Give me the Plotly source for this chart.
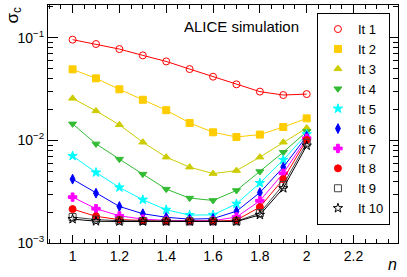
import plotly.graph_objects as go

n_values = [1.0, 1.1, 1.2, 1.3, 1.4, 1.5, 1.6, 1.7, 1.8, 1.9, 2.0]

it1 = [0.096, 0.087, 0.0777, 0.0674, 0.0589, 0.0496, 0.0418, 0.0352, 0.0299, 0.0277, 0.0283]
it2 = [0.0493, 0.0403, 0.0315, 0.0249, 0.0197, 0.0148, 0.0120, 0.0108, 0.0114, 0.0135, 0.0164]
it3 = [0.0257, 0.0194, 0.0142, 0.0096, 0.00687, 0.00549, 0.00475, 0.00508, 0.00687, 0.0096, 0.0132]
it4 = [0.0145, 0.00925, 0.00657, 0.00469, 0.00335, 0.00274, 0.00260, 0.00325, 0.00497, 0.00767, 0.0122]
it5 = [0.00706, 0.00487, 0.00348, 0.00264, 0.00211, 0.00187, 0.00188, 0.00241, 0.00384, 0.00646, 0.0115]
it6 = [0.00419, 0.00306, 0.00227, 0.00193, 0.00178, 0.00171, 0.00173, 0.00204, 0.00310, 0.00548, 0.0110]
it7 = [0.00280, 0.00216, 0.00184, 0.00171, 0.00166, 0.00165, 0.00165, 0.00179, 0.00258, 0.00478, 0.0105]
it8 = [0.00214, 0.00182, 0.00169, 0.00165, 0.00163, 0.00163, 0.00163, 0.00167, 0.00224, 0.00419, 0.0101]
it9 = [0.00179, 0.00169, 0.00165, 0.00164, 0.00163, 0.00163, 0.00163, 0.00163, 0.00196, 0.00369, 0.0095]
it10 = [0.00171, 0.00163, 0.00162, 0.00162, 0.00162, 0.00162, 0.00162, 0.00162, 0.00188, 0.00342, 0.0089]

series_names = ["It 1", "It 2", "It 3", "It 4", "It 5", "It 6", "It 7", "It 8", "It 9", "It 10"]
series_values = [it1, it2, it3, it4, it5, it6, it7, it8, it9, it10]
series_colors = ["#ff0000", "#ffcc00", "#cccc00", "#33bb33", "#00ffff", "#0000ff",
                 "#ff00ff", "#ff0000", "#444444", "#000000"]
series_symbols = ["circle-open", "square", "triangle-up", "triangle-down", "star",
                  "diamond-tall", "cross", "circle", "square-open", "star-open"]

fig = go.Figure()
for name, vals, col, sym in zip(series_names, series_values, series_colors, series_symbols):
    fig.add_trace(go.Scatter(
        x=n_values, y=vals, name=name, mode="lines", legendgroup=name,
        showlegend=False, line=dict(color=col, width=1), hoverinfo="skip",
    ))
    fig.add_trace(go.Scatter(
        x=n_values, y=vals, name=name, mode="markers", legendgroup=name,
        marker=dict(symbol=sym, color=col, size=7,
                    line=dict(color=col, width=1)),
    ))

font_family = "Liberation Sans, Arial, sans-serif"
minor_y = [m * 10 ** e for e in (-3, -2, -1) for m in range(2, 10)]

fig.update_layout(
    width=407, height=277,
    margin=dict(l=48, r=9, t=5, b=34),
    paper_bgcolor="white", plot_bgcolor="white",
    font=dict(family=font_family, size=14, color="black"),
    showlegend=True,
    legend=dict(x=0.977, xanchor="right", y=0.966, yanchor="top",
                bgcolor="white", bordercolor="black", borderwidth=1,
                font=dict(size=13), itemwidth=30, tracegroupgap=0),
    xaxis=dict(range=[0.895, 2.39], showline=True, linecolor="black", linewidth=1,
               mirror="ticks", ticks="inside", ticklen=8, tickcolor="black",
               dtick=0.2, tick0=0, showgrid=False, zeroline=False,
               minor=dict(ticks="inside", ticklen=4, dtick=0.05, tick0=0,
                          tickcolor="black", showgrid=False)),
    yaxis=dict(type="log", range=[-3, -0.68], showline=True, linecolor="black",
               linewidth=1, mirror="ticks", ticks="inside", ticklen=10,
               tickcolor="black", tickmode="array",
               tickvals=[0.001, 0.01, 0.1],
               ticktext=["10<sup>\u22123</sup>", "10<sup>\u22122</sup>", "10<sup>\u22121</sup>"],
               showgrid=False, zeroline=False,
               minor=dict(ticks="inside", ticklen=5, tickvals=minor_y,
                          tickcolor="black", showgrid=False)),
    annotations=[
        dict(text="ALICE simulation", xref="paper", yref="paper", x=0.384, y=0.908,
             xanchor="left", yanchor="middle", showarrow=False,
             font=dict(size=15, family=font_family)),
        dict(text="\u03c3<sub>c</sub>", xref="paper", yref="paper", x=-0.1, y=1.0,
             xanchor="center", yanchor="top", textangle=-90, showarrow=False,
             font=dict(size=17, family=font_family)),
        dict(text="<i>n</i>", xref="paper", yref="paper", x=0.983, y=-0.092,
             xanchor="center", yanchor="middle", showarrow=False,
             font=dict(size=16, family=font_family)),
    ],
)

fig.write_html("out.html", config={"displayModeBar": False},
               post_script="document.body.style.margin='0';")
